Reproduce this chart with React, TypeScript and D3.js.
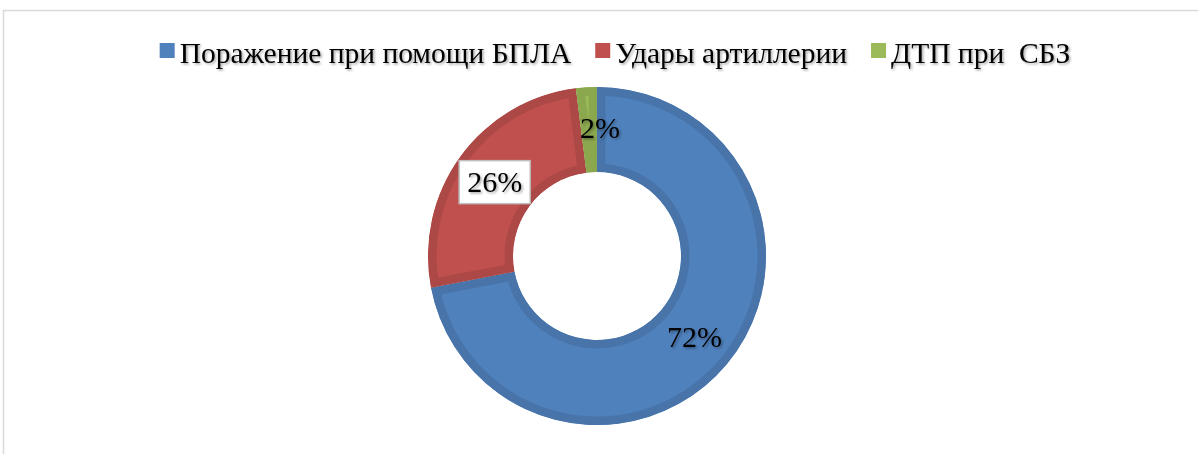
import * as React from 'react';
import * as d3 from 'd3';

const categories = ['Поражение при помощи БПЛА', 'Удары артиллерии', 'ДТП при  СБЗ'];
const values = [72, 26, 2];
const fills = ['#4F81BD', '#C0504D', '#9BBB59'];
const borders = ['#4874AA', '#AC4845', '#8BA84F'];

const W = 1198;
const H = 454;
const cx = 597;
const cy = 256;
const outerR = 169;
const innerR = 84;
const FONT = '"Liberation Serif", "Times New Roman", serif';

const App: React.FC = () => {
  const legendRef = React.useRef<SVGGElement>(null);

  const pie = d3.pie<number>().sort(null).value((d) => d);
  const arcs = pie(values);
  const arc = d3.arc<d3.PieArcDatum<number>>().innerRadius(innerR).outerRadius(outerR);

  React.useEffect(() => {
    const g = d3.select(legendRef.current);
    g.selectAll('*').remove();
    const items = g.selectAll('g').data(categories).join('g');
    items
      .append('rect')
      .attr('width', 15)
      .attr('height', 15)
      .attr('y', -10)
      .attr('fill', (_, i) => fills[i]);
    items
      .append('text')
      .attr('x', 20)
      .attr('y', 0)
      .attr('dy', '0.33em')
      .attr('font-family', FONT)
      .attr('font-size', 29.5)
      .attr('filter', 'url(#tshadow)')
      .style('white-space', 'pre')
      .text((d) => d);
    let x = 0;
    const widths: number[] = [];
    items.each(function () {
      const t = d3.select(this).select('text').node() as SVGTextElement;
      widths.push(20 + t.getComputedTextLength());
    });
    items.attr('transform', (_, i) => {
      const tx = x;
      x += widths[i] + 24;
      return `translate(${tx},0)`;
    });
    const total = x - 24;
    g.attr('transform', `translate(${615 - total / 2},53)`);
  }, []);

  const label = (i: number, dx = 0, dy = 0) => {
    const c = arc.centroid(arcs[i]);
    return [cx + c[0] + dx, cy + c[1] + dy];
  };

  const [l0x, l0y] = label(0);
  const [l1x, l1y] = label(1);
  const [l2x, l2y] = label(2, 11, -2);

  return (
    <svg
      width={W}
      height={H}
      viewBox={`0 0 ${W} ${H}`}
      style={{ position: 'absolute', left: 0, top: 0, background: '#fff' }}
    >
      <defs>
        <filter id="tshadow" x="-5%" y="-20%" width="110%" height="150%">
          <feDropShadow dx="1.5" dy="1.5" stdDeviation="1" floodColor="#000" floodOpacity="0.35" />
        </filter>
        {arcs.map((a, i) => (
          <clipPath key={i} id={`clip${i}`}>
            <path d={arc(a) ?? ''} />
          </clipPath>
        ))}
      </defs>
      <path d={`M3.5,${H} V10.5 H${W}`} fill="none" stroke="#D9D9D9" strokeWidth={1.5} />
      <g ref={legendRef} />
      <g transform={`translate(${cx},${cy})`}>
        {arcs.map((a, i) => (
          <path
            key={i}
            d={arc(a) ?? ''}
            fill={fills[i]}
            stroke={borders[i]}
            strokeWidth={17}
            strokeLinejoin="round"
            clipPath={`url(#clip${i})`}
          />
        ))}
      </g>
      <text x={l0x} y={l0y} dy="0.35em" textAnchor="middle" fontFamily={FONT} fontSize={30} filter="url(#tshadow)">
        {`${values[0]}%`}
      </text>
      <text x={l2x} y={l2y} dy="0.35em" textAnchor="middle" fontFamily={FONT} fontSize={30} filter="url(#tshadow)">
        {`${values[2]}%`}
      </text>
      <g transform={`translate(${l1x},${l1y})`}>
        <rect x={-35.5} y={-21} width={71} height={43} fill="#fff" stroke="#BFBFBF" strokeWidth={1.5} />
        <text dy="0.35em" textAnchor="middle" fontFamily={FONT} fontSize={30} filter="url(#tshadow)">
          {`${values[1]}%`}
        </text>
      </g>
    </svg>
  );
};

export default App;
